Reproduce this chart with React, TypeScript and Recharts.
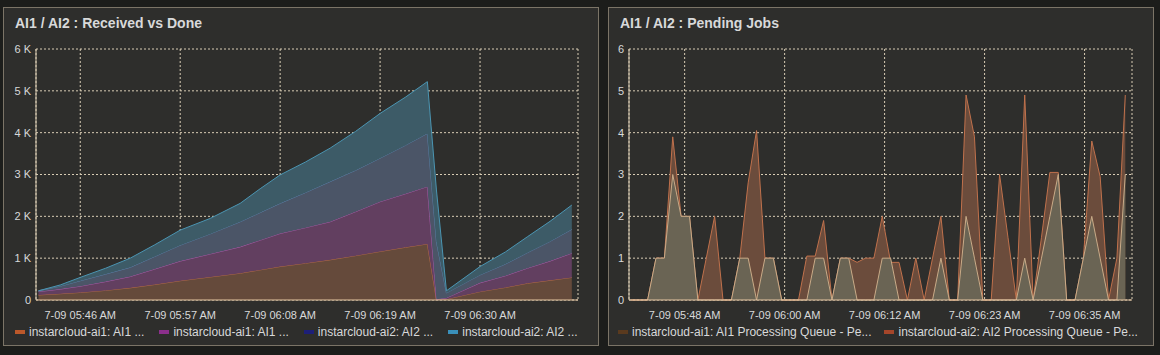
import React from "react";
import { AreaChart, Area, XAxis, YAxis, CartesianGrid } from "recharts";

// Received vs Done: minutes after 05:00 on 7-09, job counts
const receivedTimes = [41.4, 43.8, 46.0, 48.8, 51.5, 54.2, 57.0, 60.3, 63.6, 65.8, 68.0, 70.8, 73.5, 76.3, 79.0, 81.8, 84.2, 85.2, 86.3, 90.0, 92.8, 95.2, 97.7, 100.1];
const ai1A = [120, 150, 180, 230, 290, 370, 460, 550, 640, 720, 800, 880, 960, 1060, 1160, 1260, 1340, 10, 20, 200, 300, 400, 470, 540];
const ai1B = [80, 110, 150, 210, 270, 370, 470, 550, 630, 710, 790, 850, 910, 1050, 1190, 1280, 1370, 10, 30, 210, 280, 360, 460, 580];
const ai2A = [20, 70, 130, 180, 220, 300, 380, 480, 600, 660, 720, 840, 960, 990, 1040, 1160, 1270, 1370, 120, 190, 280, 370, 470, 570];
const ai2B = [0, 30, 80, 140, 220, 280, 360, 370, 440, 570, 680, 730, 800, 930, 1070, 1150, 1240, 1240, 50, 200, 290, 380, 480, 580];

const receivedTicks = [46, 57, 68, 79, 90];
const receivedTickLabels = ["7-09 05:46 AM", "7-09 05:57 AM", "7-09 06:08 AM", "7-09 06:19 AM", "7-09 06:30 AM"];
const receivedYTicks = [0, 1000, 2000, 3000, 4000, 5000, 6000];

const receivedLegend = [
  { name: "instarcloud-ai1: AI1 ...", color: "#bb582a" },
  { name: "instarcloud-ai1: AI1 ...", color: "#8b2f8b" },
  { name: "instarcloud-ai2: AI2 ...", color: "#1d1f78" },
  { name: "instarcloud-ai2: AI2 ...", color: "#3a90ba" },
];

// Pending jobs: one sample per minute
const queueTimes = [42, 43, 44, 45, 46, 47, 48, 49, 50, 51, 52, 53, 54, 55, 56, 57, 58, 59, 60, 61, 62, 63, 64, 65, 66, 67, 68, 69, 70, 71, 72, 73, 74, 75, 76, 77, 78, 79, 80, 81, 82, 83, 84, 85, 86, 87, 88, 89, 90, 91, 92, 93, 94, 95, 96, 97, 98, 99, 100, 101];
const ai1Queue = [0, 0, 0, 1, 1, 3, 2, 2, 0, 0, 0, 0, 0, 1, 1, 0, 1, 1, 0, 0, 0, 0, 1, 1, 0, 1, 1, 0, 0, 0, 1, 1, 0, 0, 0, 0, 0, 1, 0, 0, 2, 1, 0, 0, 0, 0, 0, 1, 0, 1, 2, 3, 0, 0, 1, 2, 1, 0, 0, 3];
const ai2Queue = [0, 0, 0, 1, 1, 3.9, 2, 2, 0, 1, 2, 0, 0, 1, 2.8, 4.05, 1, 1, 0, 0, 0, 1.05, 1.05, 1.9, 0, 1, 1, 0.9, 1, 1, 2, 0.9, 0.9, 0, 1, 0, 1, 2, 0, 0, 4.9, 3.9, 0, 0, 3, 1.5, 0, 4.9, 0, 1.5, 3.05, 3.05, 0, 0, 1, 3.8, 2.95, 0, 1, 4.9];

const queueTicks = [48.42, 60.35, 72.28, 84.21, 96.14];
const queueTickLabels = ["7-09 05:48 AM", "7-09 06:00 AM", "7-09 06:12 AM", "7-09 06:23 AM", "7-09 06:35 AM"];
const queueYTicks = [0, 1, 2, 3, 4, 5, 6];

const queueLegend = [
  { name: "instarcloud-ai1: AI1 Processing Queue - Pe...", color: "#5a3a1e" },
  { name: "instarcloud-ai2: AI2 Processing Queue - Pe...", color: "#a5462a" },
];

const receivedData = receivedTimes.map((t, i) => ({ t, a1: ai1A[i], b1: ai1B[i], a2: ai2A[i], b2: ai2B[i] }));
const queueData = queueTimes.map((t, i) => ({ t, q1: ai1Queue[i], q2: ai2Queue[i] }));

const FONT = '"Liberation Sans", Arial, sans-serif';
const TEXT = "#d8d9da";
const GRID = "#d9cdb5";
const AXIS_X = "#e6c6a2";
const AXIS_Y = "#d9cbb2";

function Panel({ left, width, title }: { left: number; width: number; title: string }) {
  return (
    <div
      style={{
        position: "absolute",
        left,
        top: 7,
        width,
        height: 339,
        background: "#2e2e2c",
        border: "1px solid #7b7467",
        boxSizing: "border-box",
      }}
    >
      <div
        style={{
          position: "absolute",
          left: 11,
          top: 7,
          fontSize: 14,
          fontWeight: "bold",
          color: TEXT,
          whiteSpace: "nowrap",
        }}
      >
        {title}
      </div>
    </div>
  );
}

function SeriesLegend({ items, left, gap }: { items: { name: string; color: string }[]; left: number; gap: number }) {
  return (
    <div
      style={{
        position: "absolute",
        left,
        top: 325,
        display: "flex",
        alignItems: "center",
        fontSize: 12,
        lineHeight: "14px",
        color: TEXT,
        whiteSpace: "nowrap",
      }}
    >
      {items.map((it, i) => (
        <div key={i} style={{ display: "flex", alignItems: "center", marginRight: gap }}>
          <span style={{ display: "inline-block", width: 10, height: 4, background: it.color, marginRight: 4 }} />
          <span>{it.name}</span>
        </div>
      ))}
    </div>
  );
}

const tickStyle = { fill: TEXT, fontSize: 11, fontFamily: FONT };

export default function App() {
  return (
    <div
      style={{
        position: "absolute",
        left: 0,
        top: 0,
        width: 1160,
        height: 355,
        background: "#1c1d1b",
        fontFamily: FONT,
        overflow: "hidden",
      }}
    >
      <Panel left={3} width={596} title="AI1 / AI2 : Received vs Done" />
      <Panel left={608} width={546} title="AI1 / AI2 : Pending Jobs" />

      <div style={{ position: "absolute", left: 0, top: 0 }}>
        <AreaChart width={600} height={320} data={receivedData} margin={{ top: 49, right: 22, bottom: 0, left: 0 }}>
          <CartesianGrid stroke={GRID} strokeDasharray="2 2" />
          <XAxis
            dataKey="t"
            type="number"
            domain={[41.13, 100.78]}
            ticks={receivedTicks}
            interval={0}
            tickFormatter={(v) => receivedTickLabels[receivedTicks.indexOf(v)]}
            height={20}
            tickSize={0}
            tickMargin={11}
            axisLine={{ stroke: AXIS_X }}
            tick={tickStyle}
          />
          <YAxis
            width={36}
            domain={[0, 6000]}
            ticks={receivedYTicks}
            interval={0}
            tickFormatter={(v) => (v === 0 ? "0" : `${v / 1000} K`)}
            tickSize={0}
            tickMargin={5}
            axisLine={{ stroke: AXIS_Y }}
            tick={tickStyle}
          />
          <Area type="linear" dataKey="a1" stackId="r" stroke="#b46a45" fill="#654a3b" fillOpacity={1} strokeWidth={1} dot={false} activeDot={false} isAnimationActive={false} />
          <Area type="linear" dataKey="b1" stackId="r" stroke="#a95aa8" fill="#623f60" fillOpacity={1} strokeWidth={1} dot={false} activeDot={false} isAnimationActive={false} />
          <Area type="linear" dataKey="a2" stackId="r" stroke="#5b7ea6" fill="#4b5567" fillOpacity={1} strokeWidth={1} dot={false} activeDot={false} isAnimationActive={false} />
          <Area type="linear" dataKey="b2" stackId="r" stroke="#4b95b2" fill="#3d5b67" fillOpacity={1} strokeWidth={1} dot={false} activeDot={false} isAnimationActive={false} />
        </AreaChart>
      </div>

      <div style={{ position: "absolute", left: 600, top: 0 }}>
        <AreaChart width={560} height={320} data={queueData} margin={{ top: 49, right: 28, bottom: 0, left: 0 }}>
          <CartesianGrid stroke={GRID} strokeDasharray="2 2" />
          <XAxis
            dataKey="t"
            type="number"
            domain={[41.78, 101.8]}
            ticks={queueTicks}
            interval={0}
            tickFormatter={(v) => queueTickLabels[queueTicks.indexOf(v)]}
            height={20}
            tickSize={0}
            tickMargin={11}
            axisLine={{ stroke: AXIS_X }}
            tick={tickStyle}
          />
          <YAxis
            width={29}
            domain={[0, 6]}
            ticks={queueYTicks}
            interval={0}
            tickSize={0}
            tickMargin={5}
            axisLine={{ stroke: AXIS_Y }}
            tick={tickStyle}
          />
          <Area type="linear" dataKey="q2" stroke="#c0714c" fill="#6b4c3c" fillOpacity={1} strokeWidth={1} dot={false} activeDot={false} isAnimationActive={false} />
          <Area type="linear" dataKey="q1" stroke="#c9ab88" fill="#6a6454" fillOpacity={1} strokeWidth={1} dot={false} activeDot={false} isAnimationActive={false} />
        </AreaChart>
      </div>

      <SeriesLegend items={receivedLegend} left={15} gap={15} />
      <SeriesLegend items={queueLegend} left={618} gap={13} />
    </div>
  );
}
